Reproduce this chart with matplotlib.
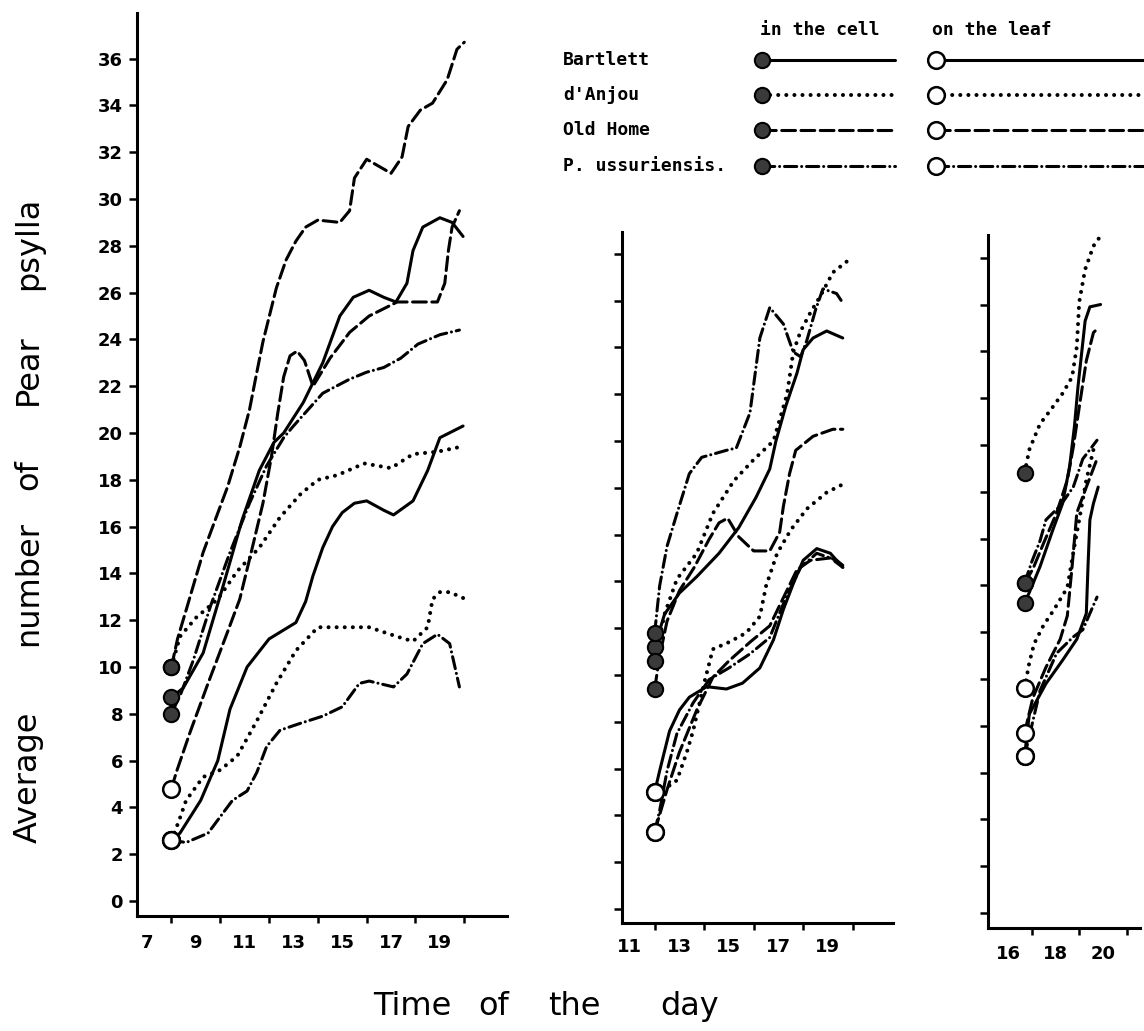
import matplotlib
matplotlib.use("Agg")
import matplotlib.pyplot as plt

# ---- panel 1 (7-20 h) ----
p1_bartlett_cell_t = [8.0, 8.48, 9.3, 10.1, 10.9, 11.6, 12.2, 12.6, 13.4, 14.2, 14.9, 15.45, 16.1, 16.7, 17.2, 17.65, 17.9, 18.3, 19.0, 19.5, 19.95]
p1_bartlett_cell_n = [8.7, 9.1, 10.6, 13.4, 16.3, 18.4, 19.6, 20.0, 21.3, 23.0, 25.0, 25.8, 26.1, 25.8, 25.6, 26.4, 27.8, 28.8, 29.2, 29.0, 28.4]
p1_anjou_cell_t = [8.0, 8.35, 9.0, 9.9, 10.7, 11.6, 12.45, 13.3, 14.0, 14.8, 15.9, 17.0, 17.9, 18.9, 19.8]
p1_anjou_cell_n = [10.0, 11.3, 12.1, 12.9, 14.1, 15.1, 16.4, 17.4, 18.0, 18.2, 18.7, 18.5, 19.1, 19.2, 19.4]
p1_oldhome_cell_t = [8.0, 8.25, 8.65, 9.3, 10.3, 10.8, 11.2, 11.5, 11.75, 12.3, 12.7, 13.1, 13.5, 14.0, 14.9, 15.3, 15.5, 16.0, 16.5, 17.0, 17.45, 17.7, 18.2, 18.7, 19.3, 19.7, 20.0]
p1_oldhome_cell_n = [10.0, 11.2, 12.6, 14.9, 17.7, 19.4, 21.0, 22.6, 23.9, 26.2, 27.4, 28.2, 28.8, 29.1, 29.0, 29.5, 30.9, 31.7, 31.4, 31.1, 31.8, 33.1, 33.8, 34.1, 35.1, 36.4, 36.7]
p1_ussur_cell_t = [8.0, 8.4, 8.9, 9.6, 10.4, 11.2, 11.9, 12.6, 13.0, 13.6, 14.2, 15.3, 16.0, 16.7, 17.4, 18.1, 19.0, 19.8]
p1_ussur_cell_n = [8.0, 8.9, 10.3, 12.6, 14.9, 17.0, 18.6, 19.8, 20.3, 21.0, 21.7, 22.3, 22.6, 22.8, 23.2, 23.8, 24.2, 24.4]

p1_bartlett_leaf_t = [8.0, 8.35, 9.2, 9.9, 10.4, 11.1, 12.0, 13.1, 13.5, 13.8, 14.2, 14.6, 15.0, 15.5, 16.0, 16.7, 17.1, 17.9, 18.5, 19.0, 19.95]
p1_bartlett_leaf_n = [2.6, 2.9, 4.3, 6.0, 8.2, 10.0, 11.2, 11.9, 12.8, 13.9, 15.1, 16.0, 16.6, 17.0, 17.1, 16.7, 16.5, 17.1, 18.4, 19.8, 20.3]
p1_anjou_leaf_t = [8.0, 8.3, 8.6, 9.3, 10.0, 10.7, 11.5, 12.3, 13.1, 14.0, 15.0, 16.1, 17.25, 17.9, 18.5, 18.7, 19.0, 19.4, 19.95]
p1_anjou_leaf_n = [2.6, 3.4, 4.3, 5.3, 5.6, 6.2, 7.7, 9.3, 10.7, 11.7, 11.7, 11.7, 11.3, 11.1, 11.7, 12.9, 13.2, 13.2, 12.95]
p1_oldhome_leaf_t = [8.0, 8.2, 8.76, 9.5, 10.3, 10.8, 11.2, 11.75, 12.1, 12.35, 12.6, 12.86, 13.15, 13.45, 13.8, 14.5, 15.3, 16.1, 17.25, 18.5, 18.9, 19.2, 19.35, 19.5, 19.8]
p1_oldhome_leaf_n = [4.8, 5.5, 7.2, 9.3, 11.5, 12.9, 14.6, 17.0, 19.0, 20.8, 22.4, 23.3, 23.5, 23.1, 22.0, 23.2, 24.3, 25.0, 25.6, 25.6, 25.6, 26.4, 27.8, 28.8, 29.5]
p1_ussur_leaf_t = [8.0, 8.6, 9.5, 10.5, 11.1, 11.5, 11.9, 12.45, 13.3, 14.2, 15.0, 15.7, 16.1, 17.1, 17.65, 18.3, 18.9, 19.4, 19.8]
p1_ussur_leaf_n = [2.6, 2.5, 2.9, 4.3, 4.7, 5.5, 6.6, 7.3, 7.6, 7.9, 8.3, 9.3, 9.4, 9.15, 9.7, 11.0, 11.4, 11.0, 9.15]

# ---- panel 2 (11-20 h) ----
p2_bartlett_cell_t = [12.0, 12.4, 13.0, 13.7, 14.6, 15.4, 16.1, 16.65, 16.9, 17.3, 17.75, 18.0, 18.4, 18.95, 19.6]
p2_bartlett_cell_n = [11.2, 12.6, 13.5, 14.2, 15.2, 16.3, 17.6, 18.8, 20.0, 21.5, 22.9, 23.9, 24.4, 24.7, 24.4]
p2_anjou_cell_t = [12.0, 12.4, 12.9, 13.7, 14.35, 15.2, 16.0, 16.8, 17.35, 17.6, 17.9, 18.3, 18.7, 19.2, 19.8]
p2_anjou_cell_n = [10.6, 12.6, 14.1, 15.2, 16.9, 18.3, 19.2, 20.0, 22.0, 23.8, 24.7, 25.5, 26.2, 27.2, 27.7]
p2_oldhome_cell_t = [12.0, 12.2, 12.5, 13.0, 13.6, 14.2, 14.6, 14.95, 15.4, 16.0, 16.65, 17.05, 17.2, 17.45, 17.7, 18.4, 19.2, 19.6]
p2_oldhome_cell_n = [9.4, 10.8, 12.3, 13.6, 14.6, 15.8, 16.5, 16.7, 15.9, 15.3, 15.3, 16.1, 17.2, 18.6, 19.6, 20.2, 20.5, 20.5]
p2_ussur_cell_t = [12.0, 12.2, 12.5, 12.9, 13.4, 13.9, 14.9, 15.3, 15.85, 16.25, 16.65, 17.2, 17.6, 17.9, 18.15, 18.5, 18.8, 19.35, 19.6]
p2_ussur_cell_n = [11.8, 13.8, 15.5, 16.9, 18.6, 19.3, 19.6, 19.7, 21.2, 24.4, 25.7, 25.0, 23.8, 23.6, 24.3, 25.6, 26.5, 26.3, 25.9]

p2_bartlett_leaf_t = [12.0, 12.2, 12.6, 13.0, 13.4, 14.1, 14.9, 15.55, 16.25, 16.8, 17.2, 17.6, 18.0, 18.55, 19.1, 19.6]
p2_bartlett_leaf_n = [5.0, 5.9, 7.6, 8.5, 9.05, 9.5, 9.4, 9.65, 10.3, 11.5, 12.8, 13.9, 14.9, 15.4, 15.2, 14.6]
p2_anjou_leaf_t = [12.0, 12.5, 12.9, 13.3, 13.55, 14.0, 14.35, 15.0, 15.7, 16.25, 16.5, 16.95, 17.5, 18.15, 18.95, 19.7]
p2_anjou_leaf_n = [5.0, 5.2, 5.5, 6.7, 7.6, 9.65, 11.1, 11.4, 11.8, 12.5, 13.8, 15.2, 16.2, 17.1, 17.8, 18.2]
p2_oldhome_leaf_t = [12.0, 12.5, 13.0, 13.7, 14.35, 15.0, 15.85, 16.65, 17.2, 17.75, 18.3, 19.1, 19.6]
p2_oldhome_leaf_n = [3.3, 5.1, 6.7, 8.5, 9.9, 10.6, 11.4, 12.1, 13.3, 14.5, 14.9, 15.0, 14.6]
p2_ussur_leaf_t = [12.0, 12.2, 12.5, 12.9, 13.55, 14.2, 15.0, 15.85, 16.65, 17.3, 17.9, 18.55, 19.35, 19.7]
p2_ussur_leaf_n = [3.3, 4.2, 5.9, 7.5, 8.8, 9.8, 10.3, 10.9, 11.6, 13.3, 14.6, 15.2, 14.9, 14.6]

# ---- panel 3 (16-20 h) ----
p3_bartlett_cell_t = [16.7, 16.9, 17.35, 17.9, 18.3, 18.6, 18.8, 18.95, 19.1, 19.25, 19.45, 19.9]
p3_bartlett_cell_n = [13.25, 13.7, 14.8, 16.4, 17.5, 19.1, 20.8, 22.5, 23.9, 25.3, 25.9, 26.0]
p3_anjou_cell_t = [16.7, 16.9, 17.35, 17.8, 18.3, 18.7, 18.9, 19.0, 19.25, 19.6, 19.95]
p3_anjou_cell_n = [18.8, 19.8, 20.9, 21.5, 22.2, 22.9, 24.2, 26.1, 27.5, 28.5, 29.0]
p3_oldhome_cell_t = [16.7, 17.05, 17.5, 18.05, 18.5, 18.75, 19.0, 19.3, 19.6, 19.8]
p3_oldhome_cell_n = [14.1, 14.7, 15.8, 17.1, 18.5, 19.9, 21.6, 23.6, 24.8, 25.0]
p3_ussur_cell_t = [16.7, 17.0, 17.35, 17.6, 18.2, 18.75, 19.15, 19.75]
p3_ussur_cell_n = [14.1, 15.0, 15.9, 16.8, 17.4, 18.2, 19.4, 20.2]

p3_bartlett_leaf_t = [16.7, 16.9, 17.6, 18.3, 18.9, 19.3, 19.37, 19.45, 19.6, 19.8]
p3_bartlett_leaf_n = [6.7, 8.5, 9.8, 10.8, 11.7, 12.8, 14.8, 16.8, 17.5, 18.2]
p3_anjou_leaf_t = [16.7, 16.9, 17.1, 17.5, 17.9, 18.5, 18.75, 19.0, 19.3, 19.6]
p3_anjou_leaf_n = [9.6, 10.7, 11.5, 12.3, 12.9, 13.9, 15.4, 16.8, 18.5, 19.8]
p3_oldhome_leaf_t = [16.7, 17.05, 17.6, 18.2, 18.5, 18.7, 18.9, 19.3, 19.75]
p3_oldhome_leaf_n = [7.7, 9.2, 10.5, 11.7, 12.7, 14.8, 17.1, 18.2, 19.4]
p3_ussur_leaf_t = [16.7, 17.35, 18.05, 18.75, 19.15, 19.75]
p3_ussur_leaf_n = [6.7, 9.5, 11.1, 11.8, 12.1, 13.5]

cultivars = ["Bartlett", "d'Anjou", "Old Home", "P. ussuriensis."]
styles = {
    "Bartlett": ("-", 2.2),
    "d'Anjou": ((0, (0.01, 2.0)), 2.9),
    "Old Home": ((0, (4.5, 1.8)), 2.2),
    "P. ussuriensis.": ((0, (4.0, 1.6, 0.01, 1.6)), 2.2),
}

panel1 = [
    ("Bartlett", "cell", p1_bartlett_cell_t, p1_bartlett_cell_n),
    ("d'Anjou", "cell", p1_anjou_cell_t, p1_anjou_cell_n),
    ("Old Home", "cell", p1_oldhome_cell_t, p1_oldhome_cell_n),
    ("P. ussuriensis.", "cell", p1_ussur_cell_t, p1_ussur_cell_n),
    ("Bartlett", "leaf", p1_bartlett_leaf_t, p1_bartlett_leaf_n),
    ("d'Anjou", "leaf", p1_anjou_leaf_t, p1_anjou_leaf_n),
    ("Old Home", "leaf", p1_oldhome_leaf_t, p1_oldhome_leaf_n),
    ("P. ussuriensis.", "leaf", p1_ussur_leaf_t, p1_ussur_leaf_n),
]
panel2 = [
    ("Bartlett", "cell", p2_bartlett_cell_t, p2_bartlett_cell_n),
    ("d'Anjou", "cell", p2_anjou_cell_t, p2_anjou_cell_n),
    ("Old Home", "cell", p2_oldhome_cell_t, p2_oldhome_cell_n),
    ("P. ussuriensis.", "cell", p2_ussur_cell_t, p2_ussur_cell_n),
    ("Bartlett", "leaf", p2_bartlett_leaf_t, p2_bartlett_leaf_n),
    ("d'Anjou", "leaf", p2_anjou_leaf_t, p2_anjou_leaf_n),
    ("Old Home", "leaf", p2_oldhome_leaf_t, p2_oldhome_leaf_n),
    ("P. ussuriensis.", "leaf", p2_ussur_leaf_t, p2_ussur_leaf_n),
]
panel3 = [
    ("Bartlett", "cell", p3_bartlett_cell_t, p3_bartlett_cell_n),
    ("d'Anjou", "cell", p3_anjou_cell_t, p3_anjou_cell_n),
    ("Old Home", "cell", p3_oldhome_cell_t, p3_oldhome_cell_n),
    ("P. ussuriensis.", "cell", p3_ussur_cell_t, p3_ussur_cell_n),
    ("Bartlett", "leaf", p3_bartlett_leaf_t, p3_bartlett_leaf_n),
    ("d'Anjou", "leaf", p3_anjou_leaf_t, p3_anjou_leaf_n),
    ("Old Home", "leaf", p3_oldhome_leaf_t, p3_oldhome_leaf_n),
    ("P. ussuriensis.", "leaf", p3_ussur_leaf_t, p3_ussur_leaf_n),
]

W, H = 1144, 1031
fig = plt.figure(figsize=(W / 100, H / 100), dpi=100)


def px_axes(x0, ytop, x1, ybot):
    return fig.add_axes([x0 / W, 1 - ybot / H, (x1 - x0) / W, (ybot - ytop) / H])


def line_kw(name):
    ls, lw = styles[name]
    return dict(color="black", ls=ls, lw=lw, dash_capstyle="round", solid_capstyle="round")


def marker_kw(where):
    if where == "cell":
        return dict(marker="o", ms=11, mfc="#3a3a3a", mec="black", mew=1.5)
    return dict(marker="o", ms=12, mfc="white", mec="black", mew=1.8)


def draw_panel(ax, series, xlim, ylim, label_hours, tick_hours, ymax_tick, ylabels, xpad):
    for name, where, t, n in series:
        ax.plot(t, n, **line_kw(name))
    for name, where, t, n in series:
        ax.plot(t[0], n[0], ls="none", zorder=5, **marker_kw(where))
    ax.set_xlim(*xlim)
    ax.set_ylim(*ylim)
    for s in ["top", "right"]:
        ax.spines[s].set_visible(False)
    for s in ["left", "bottom"]:
        ax.spines[s].set_linewidth(2.2)
    ax.set_xticks(label_hours)
    ax.set_xticklabels([str(h) for h in label_hours], fontweight="bold", fontsize=13)
    ax.set_xticks(tick_hours, minor=True)
    ax.tick_params(axis="x", which="major", length=0, pad=xpad)
    ax.tick_params(axis="x", which="minor", length=5, width=1.8, direction="out")
    yt = list(range(0, ymax_tick + 1, 2))
    ax.set_yticks(yt)
    if ylabels:
        ax.set_yticklabels([str(v) for v in yt], fontweight="bold", fontsize=13)
    else:
        ax.set_yticklabels([])
    ax.tick_params(axis="y", length=6, width=1.8, direction="out", pad=4)
    ax.patch.set_alpha(0)


ax1 = px_axes(137, 13, 507, 916)
draw_panel(ax1, panel1, (6.59, 21.75), (-0.64, 37.95),
           [7, 9, 11, 13, 15, 17, 19], [8, 10, 12, 14, 16, 18, 20], 36, True, 13)
ax2 = px_axes(622, 232, 893, 923)
draw_panel(ax2, panel2, (10.68, 21.63), (-0.6, 28.93),
           [11, 13, 15, 17, 19], [12, 14, 16, 18, 20], 28, False, 11)
ax3 = px_axes(988, 235, 1140, 928)
draw_panel(ax3, panel3, (15.16, 21.56), (-0.64, 28.97),
           [16, 18, 20], [17, 19, 21], 28, False, 12)

# axis titles, words spread out as in the original
for word, yc in [("psylla", 243), ("Pear", 370), ("of", 475), ("number", 583), ("Average", 777)]:
    fig.text(37 / W, 1 - yc / H, word, rotation=90, rotation_mode="anchor",
             ha="center", va="baseline", fontsize=23)
for word, x0 in [("Time", 373), ("of", 478), ("the", 548), ("day", 660)]:
    fig.text(x0 / W, 1 - 1015 / H, word, ha="left", va="baseline", fontsize=23)

# legend, drawn in pixel space on a full-figure overlay
lax = fig.add_axes([0, 0, 1, 1])
lax.set_xlim(0, W)
lax.set_ylim(H, 0)
lax.axis("off")
mono = dict(family="DejaVu Sans Mono", fontsize=13, fontweight="bold")
lax.text(760, 30, "in the cell", ha="left", va="center", **mono)
lax.text(932, 30, "on the leaf", ha="left", va="center", **mono)
rows = [60, 95, 130, 166]
for name, y in zip(cultivars, rows):
    lax.text(563, y, name, ha="left", va="center", **mono)
    for x0, x1, where in [(762, 895, "cell"), (936, 1144, "leaf")]:
        lax.plot([x0, x1], [y, y], **line_kw(name))
        lax.plot([x0], [y], ls="none", zorder=5, **marker_kw(where))

fig.savefig("out.png", dpi=100, facecolor="white")
